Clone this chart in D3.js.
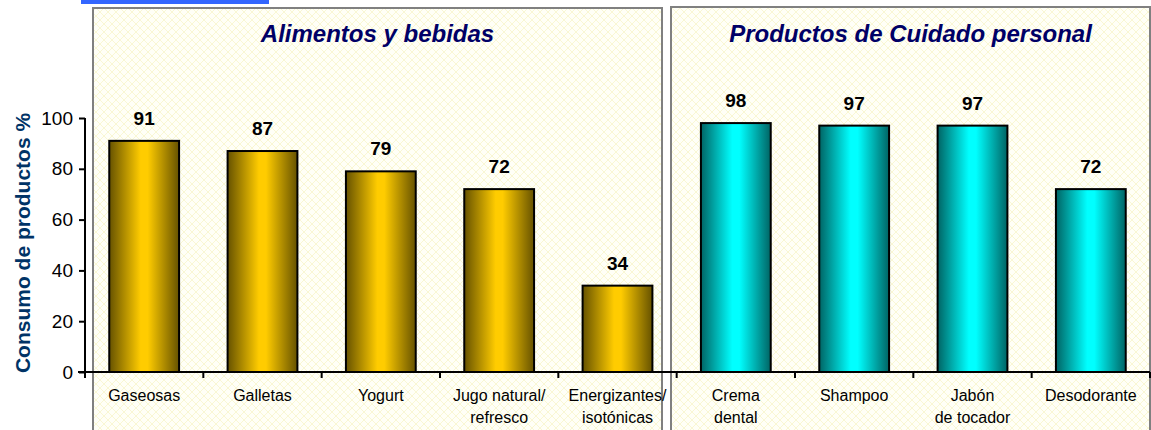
<!DOCTYPE html>
<html>
<head>
<meta charset="utf-8">
<script src="https://cdn.jsdelivr.net/npm/d3@7"></script>
<style>
  body { margin: 0; background: #fff; }
  svg { display: block; font-family: Arial, "Liberation Sans", sans-serif; }
</style>
</head>
<body>
<script>
// Screen dimensions.
const WIDTH = 1151;
const HEIGHT = 430;

// Data
const categories = ["Gaseosas", "Galletas", "Yogurt", "Jugo natural/\nrefresco", "Energizantes/\nisotónicas",
                    "Crema\ndental", "Shampoo", "Jabón\nde tocador", "Desodorante"];
const values = [91, 87, 79, 72, 34, 98, 97, 97, 72];
const groups = ["food", "food", "food", "food", "food", "care", "care", "care", "care"];
const panelTitles = ["Alimentos y bebidas", "Productos de Cuidado personal"];
const yTicks = [0, 20, 40, 60, 80, 100];

const svg = d3.select("body").append("svg").attr("width", WIDTH).attr("height", HEIGHT);
const defs = svg.append("defs");

// crosshatch background
const pat = defs.append("pattern").attr("id", "hatch")
  .attr("width", 8).attr("height", 8).attr("patternUnits", "userSpaceOnUse");
pat.append("rect").attr("width", 8).attr("height", 8).attr("fill", "#fffff7");
pat.append("path").attr("d", "M0,0 L8,8 M8,0 L0,8")
  .attr("stroke", "#f7f4c4").attr("stroke-width", 0.7);

// bar gradients
function gradient(id, dark, light) {
  const g = defs.append("linearGradient").attr("id", id)
    .attr("x1", "0%").attr("x2", "100%").attr("y1", "0%").attr("y2", "0%");
  g.append("stop").attr("offset", "0%").attr("stop-color", dark);
  g.append("stop").attr("offset", "45%").attr("stop-color", light);
  g.append("stop").attr("offset", "55%").attr("stop-color", light);
  g.append("stop").attr("offset", "100%").attr("stop-color", dark);
}
gradient("gold", "#665200", "#ffcc00");
gradient("cyan", "#006464", "#00ffff");

// scales
const x = d3.scaleBand().domain(categories).range([85, 1150]).paddingInner(0.41).paddingOuter(0.205);
const y = d3.scaleLinear().domain([0, 100]).range([372, 118]);
const step = x.step();

// blue strip at top
svg.append("rect").attr("x", 81).attr("y", 0).attr("width", 188).attr("height", 4).attr("fill", "#3366ff");

// panels
const panels = [
  { x0: 93, x1: 662, top: 8 },
  { x0: 671, x1: 1150, top: 7 }
];
svg.selectAll(".panel").data(panels).enter().append("rect")
  .attr("class", "panel")
  .attr("x", d => d.x0).attr("y", d => d.top)
  .attr("width", d => d.x1 - d.x0).attr("height", HEIGHT)
  .attr("fill", "url(#hatch)")
  .attr("stroke", "#808080").attr("stroke-width", 2);

svg.selectAll(".ptitle").data(panelTitles).enter().append("text")
  .attr("x", (d, i) => (panels[i].x0 + panels[i].x1) / 2)
  .attr("y", 42)
  .attr("text-anchor", "middle")
  .attr("font-size", 24).attr("font-weight", "bold").attr("font-style", "italic")
  .attr("fill", "#000066")
  .text(d => d);

// bars
svg.selectAll(".bar").data(values).enter().append("rect")
  .attr("x", (d, i) => x(categories[i]))
  .attr("y", d => y(d))
  .attr("width", x.bandwidth())
  .attr("height", d => y(0) - y(d))
  .attr("fill", (d, i) => groups[i] === "food" ? "url(#gold)" : "url(#cyan)")
  .attr("stroke", "#000").attr("stroke-width", 2);

svg.selectAll(".val").data(values).enter().append("text")
  .attr("x", (d, i) => x(categories[i]) + x.bandwidth() / 2)
  .attr("y", d => y(d) - 16)
  .attr("text-anchor", "middle")
  .attr("font-size", 19).attr("font-weight", "bold")
  .text(d => d);

// y axis
const yAxis = svg.append("g").attr("transform", "translate(85,0)")
  .call(d3.axisLeft(y).tickValues(yTicks).tickSize(6).tickPadding(6).tickSizeOuter(0));
yAxis.select(".domain").attr("stroke", "#000").attr("stroke-width", 2)
  .attr("d", "M0," + y(100) + "V" + (y(0) + 6));
yAxis.selectAll(".tick line").attr("stroke-width", 2);
yAxis.selectAll(".tick text").attr("font-size", 19).attr("fill", "#000")
  .attr("font-family", "Arial, 'Liberation Sans', sans-serif");

// x axis
const xAxis = svg.append("g").attr("transform", "translate(0," + y(0) + ")");
xAxis.append("line").attr("x1", 78).attr("x2", 1150).attr("stroke", "#000").attr("stroke-width", 2);
xAxis.selectAll(".xt").data(d3.range(categories.length + 1)).enter().append("line")
  .attr("x1", i => 85 + i * step).attr("x2", i => 85 + i * step)
  .attr("y1", 0).attr("y2", 6)
  .attr("stroke", "#000").attr("stroke-width", 2);

const labels = xAxis.selectAll(".xl").data(categories).enter().append("text")
  .attr("text-anchor", "middle")
  .attr("font-size", 16)
  .attr("fill", "#000");
labels.selectAll("tspan").data(d => d.split("\n").map(t => ({ t, c: d }))).enter().append("tspan")
  .attr("x", d => x(d.c) + x.bandwidth() / 2)
  .attr("y", (d, i) => 29 + i * 22)
  .text(d => d.t);

// y axis title
svg.append("text")
  .attr("transform", "translate(30,243) rotate(-90)")
  .attr("text-anchor", "middle")
  .attr("font-size", 21).attr("font-weight", "bold")
  .attr("fill", "#003366")
  .text("Consumo de productos %");
</script>
</body>
</html>
